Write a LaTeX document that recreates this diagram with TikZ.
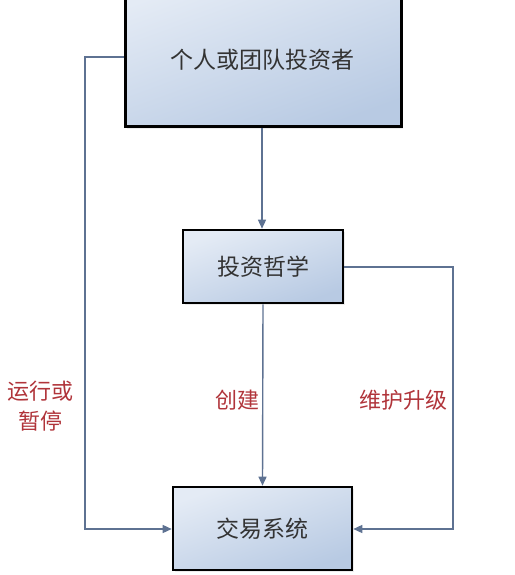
\documentclass[tikz,border=0pt]{standalone}
\usepackage{fontspec}
\newfontfamily\cjk{Noto Sans CJK SC}
\usetikzlibrary{arrows.meta,shadows}
\definecolor{boxtop}{HTML}{E4EBF5}
\definecolor{boxbot}{HTML}{B8CAE3}
\definecolor{linec}{HTML}{5E7292}
\definecolor{labred}{HTML}{B0343A}
\tikzset{
  boxfont/.style={font=\cjk\fontsize{23}{27}\selectfont, text=black!80},
  box/.style={draw=black, line width=2.6pt, top color=boxtop, bottom color=boxbot,
    shading angle=20, boxfont,
    drop shadow={opacity=0.15, shadow xshift=2pt, shadow yshift=-2pt}},
  conn/.style={draw=linec, line width=1.4pt},
  arr/.style={conn, -{Triangle[width=8pt,length=9pt]}},
  lab/.style={font=\cjk\fontsize{22}{30}\selectfont, text=labred, align=center}
}
\begin{document}
\begin{tikzpicture}[x=1pt,y=-1pt]
\useasboundingbox (0,0) rectangle (514,575);
\begin{scope}
\clip (0,0) rectangle (514,575);
\node[box, minimum width=276pt, minimum height=148pt, anchor=south west] (inv) at (124,128) {};
\node[boxfont] (invt) at (262,60) {个人或团队投资者};
\end{scope}
\node[box, minimum width=160pt, minimum height=73pt] (phil) at (263,266.5) {投资哲学};
\node[box, minimum width=179pt, minimum height=83pt] (sys) at (262.5,528.5) {交易系统};
\coordinate (l1) at (85,57);
\coordinate (l2) at (85,529);
\coordinate (r1) at (453,267);
\coordinate (r2) at (453,529);
\draw[arr] (inv.south -| 262,0) -- (phil.north -| 262,0);
\draw[arr] (phil.south) -- (sys.north);
\draw[arr] (inv.west |- l1) -- (l1) -- (l2) -- (sys.west |- l2);
\draw[arr] (phil.east |- r1) -- (r1) -- (r2) -- (sys.east |- r2);
\node[lab] (run) at (40,406) {运行或\\暂停};
\node[lab] (create) at (237,400) {创建};
\node[lab] (maint) at (403,400) {维护升级};
\end{tikzpicture}
\end{document}
